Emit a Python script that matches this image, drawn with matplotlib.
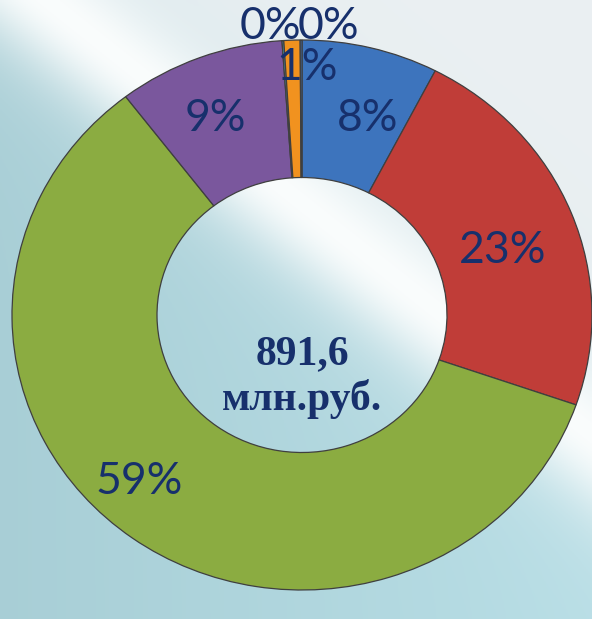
import numpy as np
import matplotlib.pyplot as plt

# доли (в %) по часовой стрелке от 12 часов
shares = [7.6, 22.7, 59.3, 9.3, 0.1, 0.9, 0.1]
colors = ['#3d74bd', '#c03d38', '#8bac41', '#7a579d', '#4bacc6', '#f1921f', '#3d74bd']
total_text = "891,6\nмлн.руб."

navy = '#17306c'

fig = plt.figure(figsize=(5.92, 6.19), dpi=100)

# фон: голубой слева, светлая диагональ
bg = fig.add_axes([0, 0, 1, 1])
bg.axis('off')
yy, xx = np.mgrid[0:1:310j, 0:1:296j]
d = ((xx - 0.08) * 0.7 + (yy - 1.0) * 0.92) / 1.156
side = 1 / (1 + np.exp(-d / 0.08))
blue = np.array([0.72, 0.87, 0.90]) - 0.06 * (1 - xx[..., None])
gray = np.array([0.92, 0.94, 0.95])
white = np.array([0.98, 0.99, 0.99])
img = blue * (1 - side[..., None]) + gray * side[..., None]
w = np.exp(-(d / 0.09) ** 2)[..., None]
img = np.clip(img * (1 - w) + white * w, 0, 1)
bg.imshow(img, origin='lower', extent=[0, 1, 0, 1], aspect='auto')
bg.set_xlim(0, 1)
bg.set_ylim(0, 1)

ax = fig.add_axes([0, 0, 1, 1])
ax.set_facecolor('none')

wedges, _ = ax.pie(shares, colors=colors, startangle=90, counterclock=False,
                   radius=1, wedgeprops=dict(width=0.5, edgecolor='#3f3f3f', linewidth=0.9))
ax.axis('off')
# кольцо немного растянуто по горизонтали, как в оригинале
cx, cy, rx, ry = 302, 315, 290, 275  # пиксели
ax.set_aspect('auto')
ax.set_xlim(-cx / rx, (592 - cx) / rx)
ax.set_ylim(-(619 - cy) / ry, cy / ry)

# небольшие сдвиги подписей (градусы по часовой, радиус) как в Excel
nudge = {0: (4, 0.75), 1: (3, 0.73), 2: (7, 0.825), 3: (-2, 0.776)}

labels = [f"{v:.0f}%" for v in shares]
n_zero = 0
for i, (wd, lab) in enumerate(zip(wedges, labels)):
    mid_deg = (wd.theta1 + wd.theta2) / 2
    if shares[i] >= 5:
        sh, r = nudge[i]
        mid = np.deg2rad(mid_deg - sh)
        ax.text(r * np.cos(mid), r * np.sin(mid), lab, ha='center', va='center',
                fontsize=32, color=navy, family='Lato')
    elif shares[i] >= 0.5:
        mid = np.deg2rad(mid_deg)
        ax.text(0.9 * np.cos(mid) + 0.05, 0.9 * np.sin(mid), lab, ha='center',
                va='center', fontsize=32, color=navy, family='Lato')
    else:
        x0 = -0.11 if n_zero == 0 else 0.09
        n_zero += 1
        ax.text(x0, 1.05, lab, ha='center',
                va='center', fontsize=32, color=navy, family='Lato')

ax.text(0, -0.225, total_text, ha='center', va='center', fontsize=30,
        fontweight='bold', color=navy, family='Liberation Serif', linespacing=1.2)

fig.savefig('out.png', dpi=100)
